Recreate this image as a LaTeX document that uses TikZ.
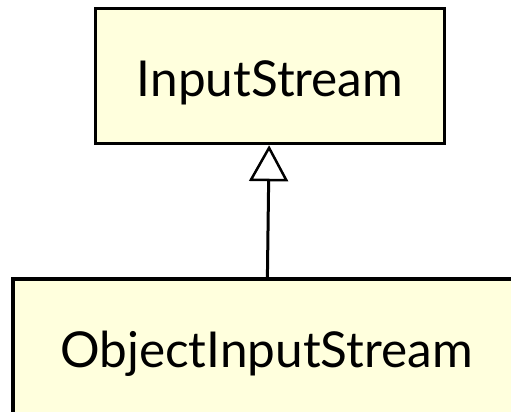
\documentclass[tikz,border=0pt]{standalone}
\usepackage{fontspec}
\setmainfont{Lato}
\usetikzlibrary{arrows.meta}
\definecolor{classfill}{RGB}{255,255,221}
\begin{document}
\begin{tikzpicture}[x=1pt,y=1pt,
  classbox/.style={draw=black,line width=3.5pt,fill=classfill,inner sep=0pt,
    font=\fontsize{49.5}{54}\selectfont,text height=42pt,text depth=0pt,minimum height=135pt},
  inherit/.style={line width=3pt,-{Triangle[open,fill=white,length=36pt,width=39pt,line width=2.5pt]}}]
\useasboundingbox (0,0) rectangle (511,412);
\node [classbox,minimum width=349pt] (inputstream) at (270,336) {InputStream};
\node [classbox,minimum width=507pt] (objectinputstream) at (266.5,65.5) {ObjectInputStream};
\draw [inherit] (objectinputstream) -- (inputstream);
\end{tikzpicture}
\end{document}
